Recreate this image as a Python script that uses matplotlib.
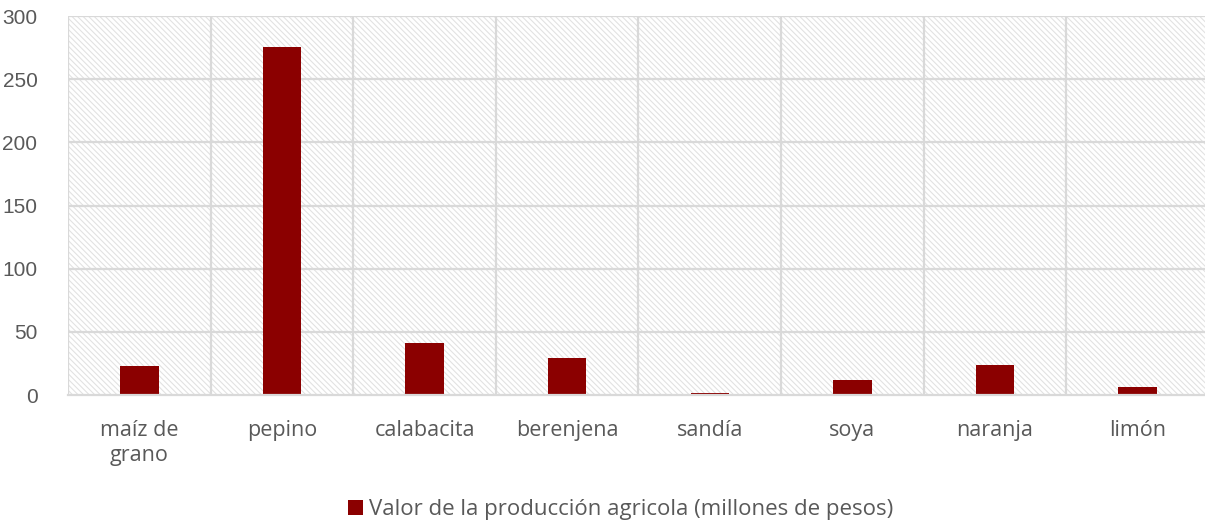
import matplotlib.pyplot as plt
from matplotlib.patches import Rectangle
import numpy as np

plt.rcParams['font.family'] = ['Open Sans', 'DejaVu Sans']
plt.rcParams['hatch.linewidth'] = 0.8

# datos
cultivos = ['maíz de\ngrano', 'pepino', 'calabacita', 'berenjena', 'sandía', 'soya', 'naranja', 'limón']
valor = [23, 275.5, 41, 29, 1.5, 11.8, 23.7, 6.1]
serie = 'Valor de la producción agricola (millones de pesos)'

rojo = '#8b0000'
gris = '#d9d9d9'

fig = plt.figure(figsize=(12.05, 5.23), dpi=100)
ax = fig.add_axes([0.0564, 0.2447, 0.9469, 0.7247])

x = np.arange(len(cultivos))
ax.bar(x, valor, width=0.27, color=rojo, zorder=3, label=serie)

# fondo rayado
ax.add_patch(Rectangle((0, 0), 1, 1, transform=ax.transAxes, facecolor='white',
                       edgecolor='#e2e2e2', hatch='\\\\\\\\\\\\', linewidth=0, zorder=0))

ax.set_xlim(-0.5, len(cultivos) - 0.5)
ax.set_ylim(0, 300)
ax.set_yticks(range(0, 301, 50))
ax.set_xticks(x)
ax.set_xticklabels(cultivos, fontsize=15.5, linespacing=1.25)
for t in ax.get_yticklabels():
    t.set_fontfamily(['Liberation Sans', 'DejaVu Sans'])
    t.set_fontsize(15)

# rejilla
for yv in range(50, 301, 50):
    ax.axhline(yv, color=gris, lw=1.6, zorder=1)
for xv in np.arange(-0.5, len(cultivos), 1.0):
    ax.axvline(xv, color=gris, lw=1.6, zorder=1)

for s in ['top', 'right', 'left']:
    ax.spines[s].set_visible(False)
ax.spines['bottom'].set_color(gris)
ax.spines['bottom'].set_linewidth(1.6)
ax.spines['bottom'].set_zorder(4)

ax.tick_params(axis='both', length=0, labelcolor='#595959')
ax.tick_params(axis='x', pad=18)
ax.tick_params(axis='y', pad=22)

fig.legend(loc='center', bbox_to_anchor=(0.515, 0.025), frameon=False,
           fontsize=16, labelcolor='#595959', handlelength=0.7, handleheight=0.7,
           handletextpad=0.25)

fig.savefig('out.png', dpi=100)
